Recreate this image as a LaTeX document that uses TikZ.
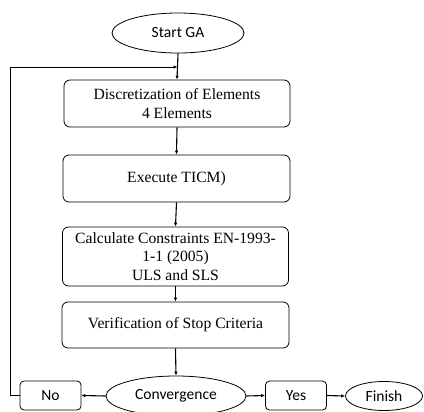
\documentclass[tikz,border=0pt]{standalone}
\usepackage{fontspec}
\setmainfont{Liberation Serif}
\newfontfamily\calib{Carlito}
\usetikzlibrary{arrows.meta,shapes.geometric}
\begin{document}
\begin{tikzpicture}[x=1bp,y=-1bp,
  box/.style={draw,rounded corners=6bp,line width=0.8bp,align=center,inner sep=0pt,
    font=\fontsize{15.7}{18.5}\selectfont},
  sbox/.style={draw,rounded corners=4bp,line width=0.8bp,inner sep=0pt,
    minimum width=61bp,minimum height=29bp,font=\calib\fontsize{15.6}{18}\selectfont},
  oval/.style={draw,ellipse,line width=0.8bp,inner sep=0pt,font=\calib\fontsize{15.6}{18}\selectfont},
  arr/.style={line width=1.1bp,-{Latex[length=4bp,width=3.5bp]}},
  thin/.style={line width=0.8bp,-{Latex[length=4bp,width=3.5bp]}}]
\useasboundingbox (0,0) rectangle (424,412);
\node[oval,minimum width=132bp,minimum height=40bp] (start) at (178,33) {Start GA};
\node[box,minimum width=226bp,minimum height=47bp] (disc) at (177,103.5) {Discretization of Elements\\4 Elements};
\node[box,minimum width=227bp,minimum height=47bp] (exec) at (176.5,178.5) {Execute TICM)};
\node[box,minimum width=226bp,minimum height=59bp] (calc) at (175.5,256.5) {Calculate Constraints EN-1993-\\1-1 (2005)\\ULS and SLS};
\node[box,minimum width=227bp,minimum height=46bp] (verif) at (175.5,325) {Verification of Stop Criteria};
\node[oval,minimum width=140bp,minimum height=40bp] (conv) at (176,396) {Convergence};
\node[sbox] (no) at (50.5,395.5) {No};
\node[sbox] (yes) at (296,395.5) {Yes};
\node[oval,minimum width=77bp,minimum height=29bp] (fin) at (384,396) {Finish};
\coordinate (loopx) at (10,0);
\coordinate (j) at (177.5,67);
\draw[arr] (start.south) -- (disc.north);
\draw[arr] (disc.south) -- (exec.north);
\draw[arr] (exec.south) -- (calc.north);
\draw[arr] (calc.south) -- (verif.north);
\draw[arr] (verif.south) -- (conv.north);
\draw[arr] (conv.west) -- (no.east);
\draw[arr] (conv.east) -- (yes.west);
\draw[arr] (yes.east) -- (fin.west);
\draw[thin] (no.west) -- (no.west -| loopx) |- (j);
\end{tikzpicture}
\end{document}
